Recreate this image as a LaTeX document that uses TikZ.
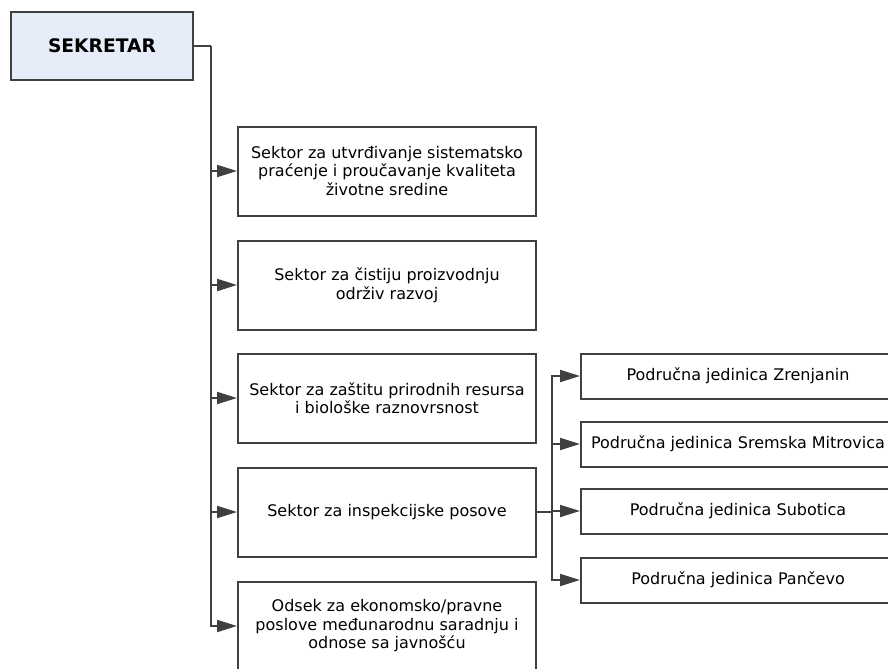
\documentclass[tikz,border=0pt]{standalone}
\usepackage{fontspec}
\setmainfont{DejaVu Sans}
\usepackage{xcolor}
\usetikzlibrary{arrows.meta}

\definecolor{linegray}{HTML}{404040}
\definecolor{boxblue}{HTML}{E6ECF8}

\begin{document}
\begin{tikzpicture}[x=0.75pt,y=-0.75pt]
        \useasboundingbox (0,0) rectangle (888,668);

        \begin{scope}[every node/.style = {rectangle, draw=linegray, line width=1.5pt,
                        inner sep=0pt, align=center, font=\fontsize{12}{13.9}\selectfont}]
            \node[fill=boxblue, minimum width=136.5pt, minimum height=51pt,
                  font=\fontsize{14}{16}\bfseries\selectfont] (S) at (102,46) {SEKRETAR};

            \node[minimum width=223.5pt, minimum height=66.75pt] (A) at (387,171)
                {Sektor za utvrđivanje sistematsko\\praćenje i proučavanje kvaliteta\\životne sredine};
            \node[minimum width=223.5pt, minimum height=66.75pt] (B) at (387,285)
                {Sektor za čistiju proizvodnju\\održiv razvoj};
            \node[minimum width=223.5pt, minimum height=66.75pt] (C) at (387,398)
                {Sektor za zaštitu prirodnih resursa\\i biološke raznovrsnost};
            \node[minimum width=223.5pt, minimum height=66.75pt] (D) at (387,512)
                {Sektor za inspekcijske posove};
            \node[minimum width=223.5pt, minimum height=66.75pt] (E) at (387,626)
                {Odsek za ekonomsko/pravne\\poslove međunarodnu saradnju i\\odnose sa javnošću};

            \node[minimum width=235.5pt, minimum height=33.75pt] (ZR) at (738,376) {Područna jedinica Zrenjanin};
            \node[minimum width=235.5pt, minimum height=33.75pt] (SM) at (738,444) {Područna jedinica Sremska Mitrovica};
            \node[minimum width=235.5pt, minimum height=33.75pt] (SU) at (738,511) {Područna jedinica Subotica};
            \node[minimum width=235.5pt, minimum height=33.75pt] (PA) at (738,580) {Područna jedinica Pančevo};
        \end{scope}

        \coordinate (t) at (211,46);
        \coordinate (b) at (552,512);

        \begin{scope}[>={Triangle[length=15pt,width=9pt]}, draw=linegray, line width=1.5pt]
            \draw (S.east) -- (t);
            \draw [->] (t) |- (A.west);
            \draw [->] (t) |- (B.west);
            \draw [->] (t) |- (C.west);
            \draw [->] (t) |- (D.west);
            \draw [->] (t) |- (E.west);

            \draw (D.east) -- (b);
            \draw [->] (b) |- (ZR.west);
            \draw [->] (b) |- (SM.west);
            \draw [->] (b) |- (SU.west);
            \draw [->] (b) |- (PA.west);
        \end{scope}
    \end{tikzpicture}
\end{document}
